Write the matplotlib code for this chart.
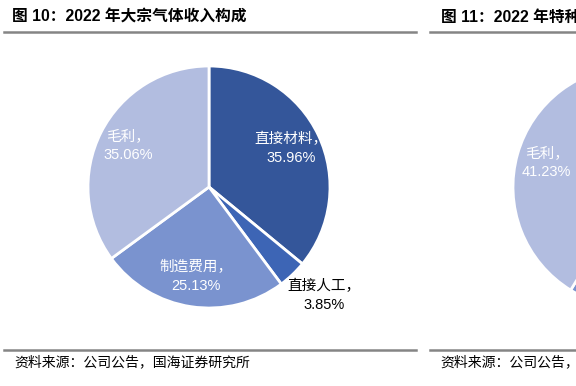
import numpy as np
import matplotlib.pyplot as plt
from matplotlib.lines import Line2D

W, H = 576, 386
DPI = 100

# data
left_title = "图 10：2022 年大宗气体收入构成"
right_title = "图 11：2022 年特种气体收入构成"
source = "资料来源：公司公告，国海证券研究所"

left_labels = ["直接材料", "直接人工", "制造费用", "毛利"]
left_values = [35.96, 3.85, 25.13, 35.06]
left_colors = ["#34569a", "#3d65b5", "#7a93cf", "#b2bde0"]

right_labels = ["其他", "毛利"]
right_values = [58.77, 41.23]
right_colors = ["#7a93cf", "#b2bde0"]

FONT = ["Liberation Sans", "Noto Sans CJK SC"]
plt.rcParams["font.family"] = FONT

fig = plt.figure(figsize=(W / DPI, H / DPI), dpi=DPI)


def px_axes(cx, cy, r):
    return fig.add_axes([(cx - r) / W, (H - cy - r) / H, 2 * r / W, 2 * r / H])


def draw_pie(ax, values, colors, labels, outside=(), hidden=()):
    wedges, _ = ax.pie(values, colors=colors, startangle=90, counterclock=False,
                       wedgeprops=dict(edgecolor="white", linewidth=2))
    ax.set_xlim(-1, 1)
    ax.set_ylim(-1, 1)
    for w, lab, v in zip(wedges, labels, values):
        if lab in hidden:
            continue
        mid = (w.theta1 + w.theta2) / 2
        if lab in outside:
            d, col, mid = 1.31, "black", mid + 3
        else:
            d, col = 0.75, "white"
        mid = np.deg2rad(mid)
        ax.text(d * np.cos(mid), d * np.sin(mid), f"{lab}，\n{v:.2f}%",
                ha="center", va="center", color=col, fontsize=10.5,
                linespacing=1.45)
    return wedges


ax1 = px_axes(209, 187, 121)
draw_pie(ax1, left_values, left_colors, left_labels, outside=("直接人工",))

ax2 = px_axes(634, 187, 121)
draw_pie(ax2, right_values, right_colors, right_labels, hidden=("其他",))

# titles and rules
fig.text(12 / W, 1 - 17 / H, left_title, fontsize=11.3, fontweight="bold",
         ha="left", va="center")
fig.text(441 / W, 1 - 17 / H, right_title, fontsize=11.3, fontweight="bold",
         ha="left", va="center")
fig.text(14 / W, 1 - 362 / H, source, fontsize=10, ha="left", va="center")
fig.text(440 / W, 1 - 362 / H, source, fontsize=10, ha="left", va="center")

for y in (32, 350):
    for x0, x1 in ((4, 416), (430, 576)):
        fig.add_artist(Line2D([x0 / W, x1 / W], [1 - y / H, 1 - y / H],
                              color="#858585", linewidth=1.8))

fig.savefig("out.png", dpi=DPI)
